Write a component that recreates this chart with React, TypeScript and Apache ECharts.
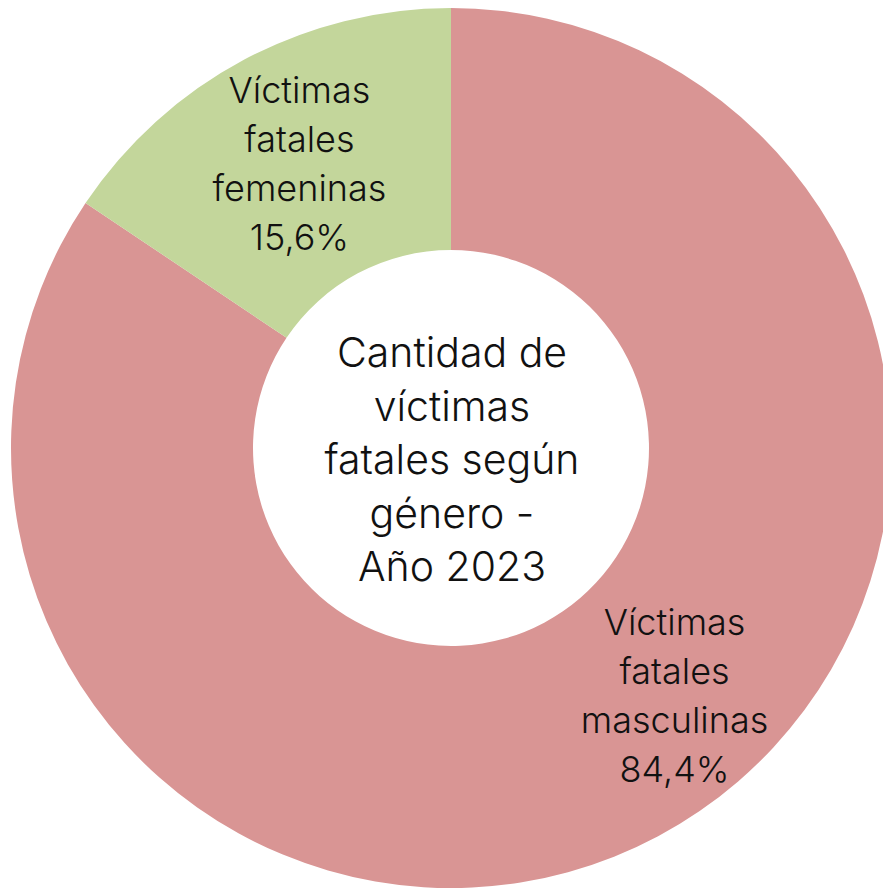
import React, { useEffect, useRef } from "react";
import * as echarts from "echarts";

const categories = ["Víctimas\nfatales\nmasculinas", "Víctimas\nfatales\nfemeninas"];
const values = [84.4, 15.6];
const colors = ["#D99594", "#C3D69B"];
const centerTitle = "Cantidad de\nvíctimas\nfatales según\ngénero -\nAño 2023";

const FONT = "Inter";

export default function App() {
  const ref = useRef<HTMLDivElement>(null);
  useEffect(() => {
    if (!ref.current) return;
    const chart = echarts.init(ref.current, undefined, { renderer: "svg" });
    chart.setOption({
      animation: false,
      backgroundColor: "#ffffff",
      graphic: [
        {
          type: "text",
          x: 452,
          y: 459,
          z: 10,
          style: {
            text: centerTitle,
            fontFamily: FONT,
            fontSize: 41,
            fontWeight: 300,
            lineHeight: 53.5,
            fill: "#111111",
            align: "center",
            verticalAlign: "middle",
          },
        },
      ],
      series: [
        {
          type: "pie",
          center: [451, 448],
          radius: [198, 440],
          startAngle: 90,
          clockwise: true,
          silent: true,
          itemStyle: { borderWidth: 0 },
          label: {
            show: true,
            position: "inside",
            fontFamily: FONT,
            fontSize: 36,
            fontWeight: 300,
            lineHeight: 49,
            color: "#111111",
            align: "center",
            formatter: (p: any) => `${p.name}\n${String(p.value).replace(".", ",")}%`,
          },
          labelLayout: (p: any) => (p.dataIndex === 0 ? { dx: 72, dy: -37 } : { dx: 0, dy: 0 }),
          data: categories.map((c, i) => ({ name: c, value: values[i], itemStyle: { color: colors[i] } })),
        },
      ],
    });
    return () => chart.dispose();
  }, []);
  return <div ref={ref} style={{ position: "absolute", left: 0, top: 0, width: 883, height: 891 }} />;
}
